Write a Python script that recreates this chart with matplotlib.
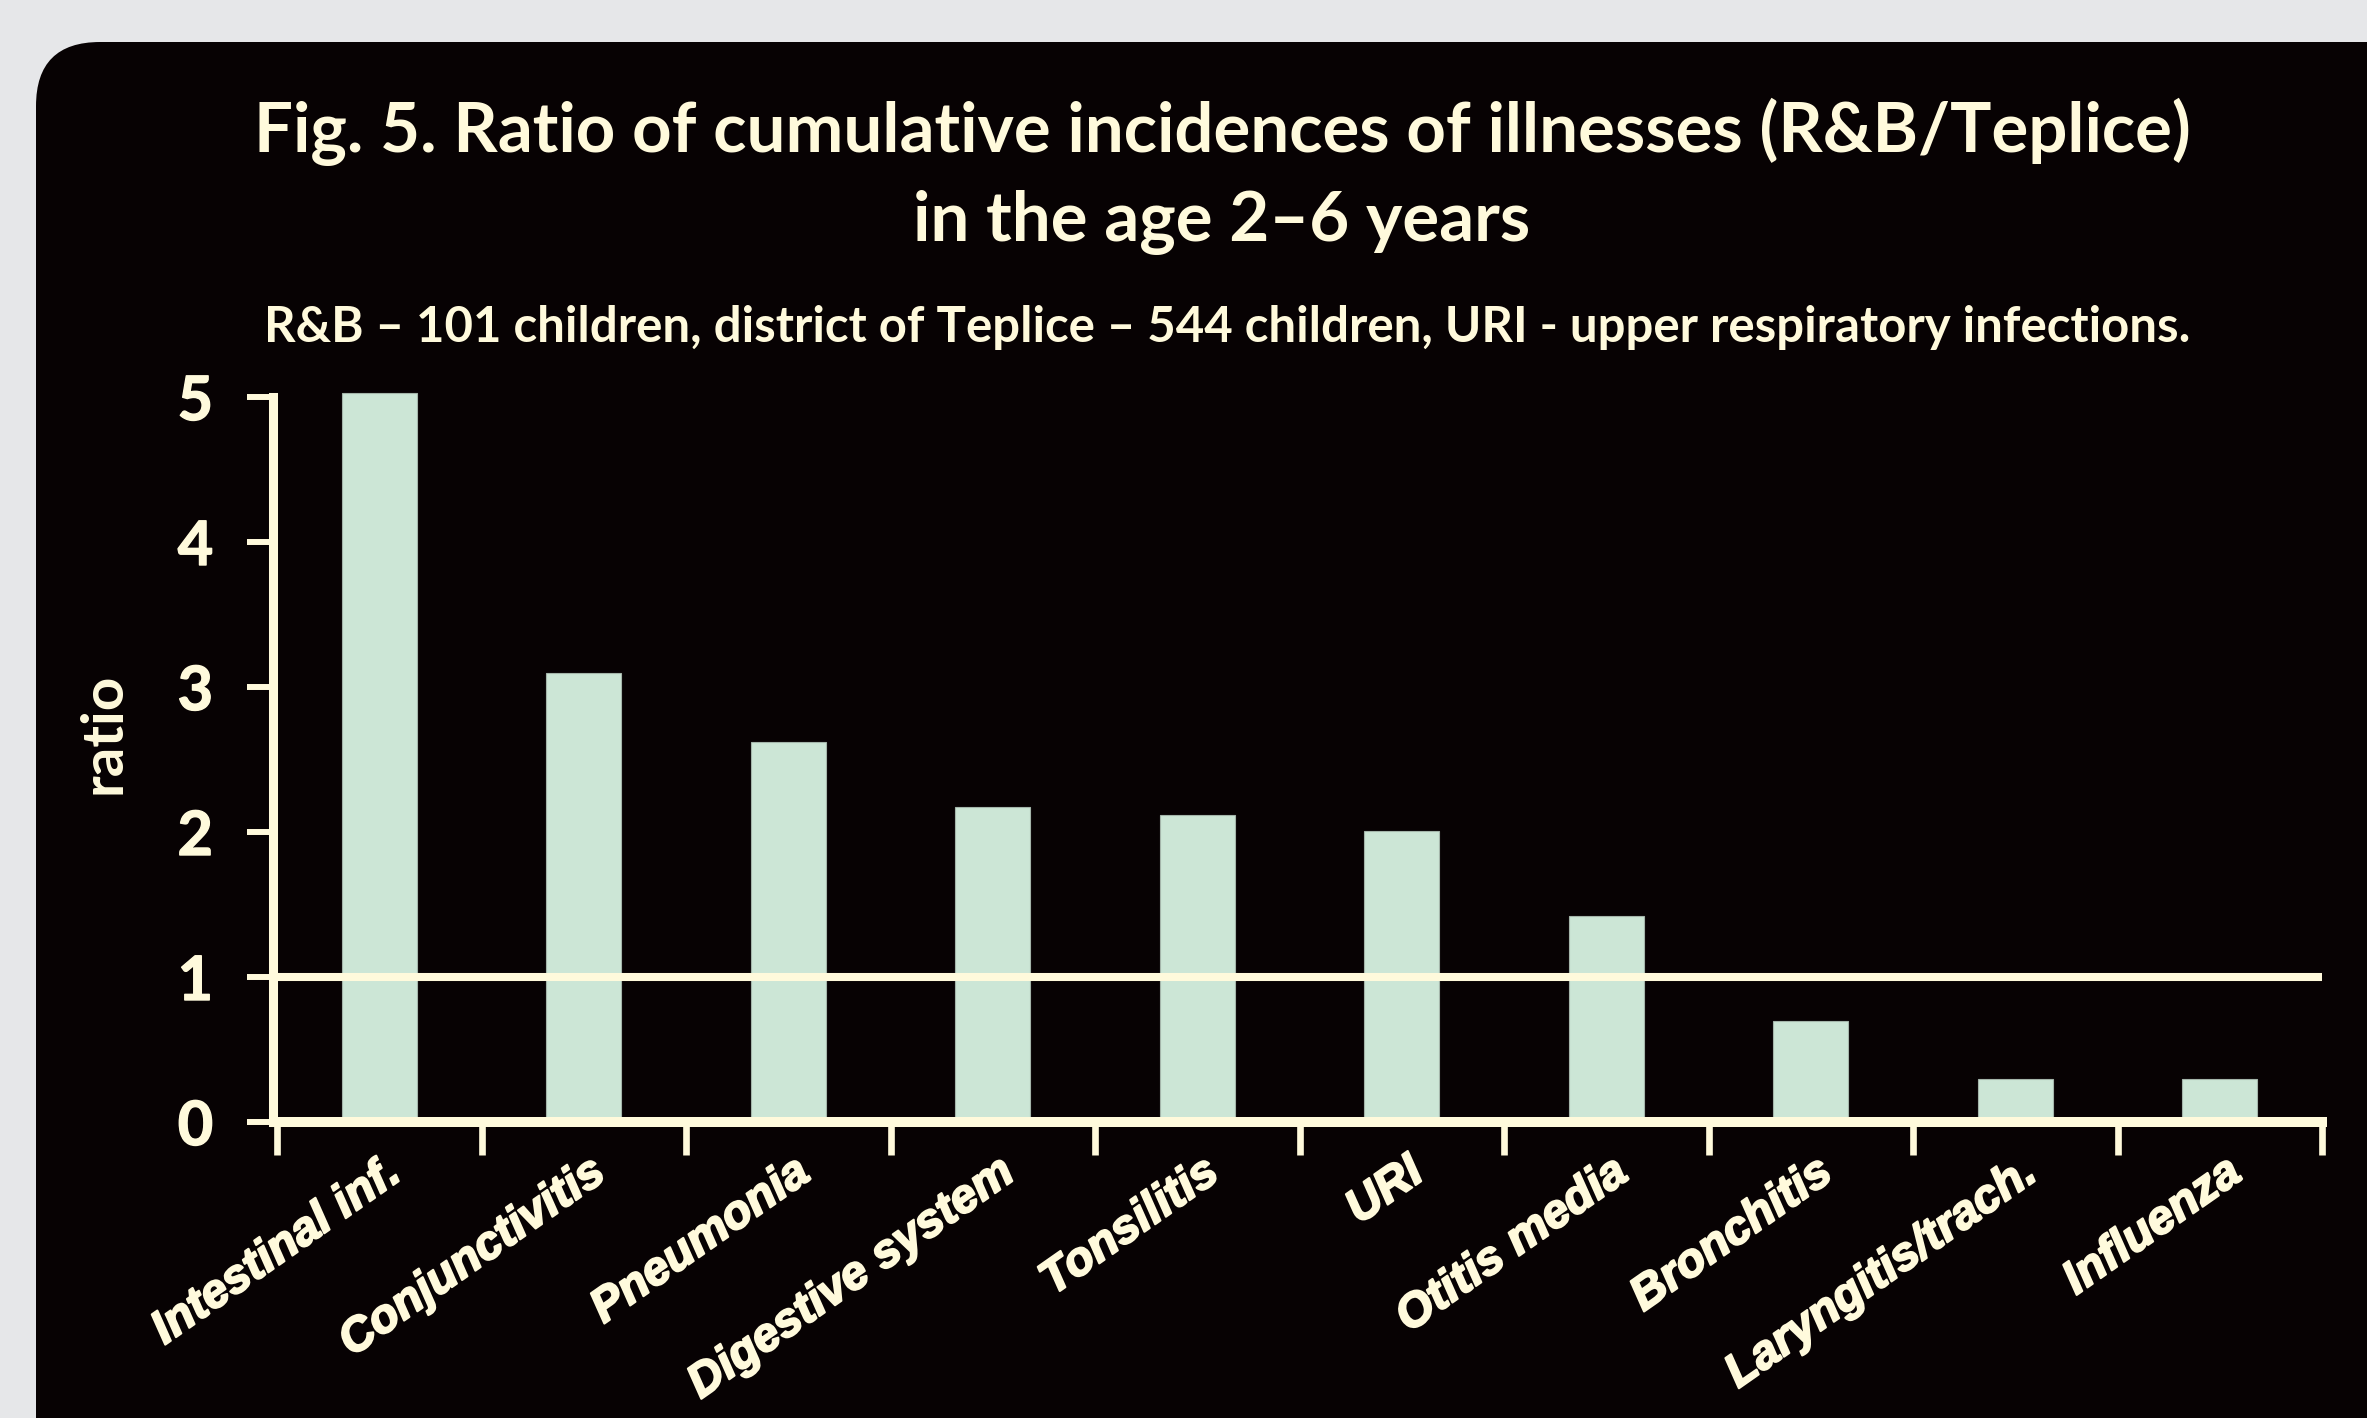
import matplotlib
matplotlib.use("Agg")
import matplotlib.pyplot as plt
import matplotlib.patheffects as pe
from matplotlib.patches import FancyBboxPatch
from matplotlib.transforms import IdentityTransform, offset_copy

# ---------------- data ----------------
categories = ["Intestinal inf.", "Conjunctivitis", "Pneumonia", "Digestive system",
              "Tonsilitis", "URI", "Otitis media", "Bronchitis",
              "Laryngitis/trach.", "Influenza"]
ratios = [5.03, 3.10, 2.62, 2.17, 2.12, 2.01, 1.42, 0.70, 0.30, 0.30]
y_ticks = [0, 1, 2, 3, 4, 5]
reference_ratio = 1
title_line1 = "Fig. 5. Ratio of cumulative incidences of illnesses (R&B/Teplice)"
title_line2 = "in the age 2\u20136 years"
subtitle = ("R&B \u2013 101 children, district of Teplice \u2013 544 children, "
            "URI - upper respiratory infections.")
y_label = "ratio"

# ---------------- style ----------------
W, H, DPI = 2367, 1418, 100
BG = "#E6E7E9"
PANEL = "#070203"
CREAM = "#FFFADC"
BAR = "#CCE6D6"
BAR_EDGE = "#A4B5AA"
TFONT = ["Lato", "DejaVu Sans"]
XFONT = ["Liberation Sans", "DejaVu Sans"]

fig = plt.figure(figsize=(W / DPI, H / DPI), dpi=DPI)
fig.patch.set_facecolor(BG)

panel = FancyBboxPatch((36, -300), W + 300, H - 42 + 300,
                       boxstyle="round,pad=0,rounding_size=64",
                       transform=IdentityTransform(),
                       facecolor=PANEL, edgecolor="none", zorder=0)
fig.add_artist(panel)

ax_left, ax_right, ax_bottom, ax_top = 277, 2322, 1122, 397
ax = fig.add_axes([ax_left / W, (H - ax_bottom) / H,
                   (ax_right - ax_left) / W, (ax_bottom - ax_top) / H])
ax.set_facecolor("none")
ax.set_xlim(-0.5, len(categories) - 0.5)
ax.set_ylim(y_ticks[0], y_ticks[-1])

x = list(range(len(categories)))
ax.bar(x, ratios, width=0.367, color=BAR, edgecolor=BAR_EDGE, linewidth=0.8,
       clip_on=False, zorder=2)
ax.axhline(reference_ratio, color=CREAM, linewidth=5.8, zorder=3)

for s in ("top", "right"):
    ax.spines[s].set_visible(False)
ax.spines["left"].set_color(CREAM)
ax.spines["left"].set_linewidth(6.5)
ax.spines["left"].set_position(("outward", 3))
ax.spines["bottom"].set_color(CREAM)
ax.spines["bottom"].set_linewidth(7.2)
ax.spines["left"].set_zorder(4)
ax.spines["bottom"].set_zorder(4)

ax.set_xticks([i - 0.5 for i in range(len(categories) + 1)])
ax.tick_params(axis="x", length=24, width=4.8, color=CREAM, direction="out",
               labelbottom=False)
ax.set_yticks(y_ticks)
ax.set_yticklabels([str(v) for v in y_ticks], family=TFONT, fontweight="bold",
                   fontsize=44, color=CREAM)
ax.tick_params(axis="y", length=19, width=4.3, color=CREAM, direction="out", pad=24)
for lbl in ax.get_yticklabels():
    lbl.set_path_effects([pe.withStroke(linewidth=1.0, foreground=CREAM)])

# category labels
thick = [pe.withStroke(linewidth=1.5, foreground=CREAM)]
for i, lab in enumerate(categories):
    tr = offset_copy(ax.transData, fig=fig, x=24, y=-56, units="dots")
    ax.text(i, 0, lab, transform=tr, rotation=35, rotation_mode="anchor",
            ha="right", va="baseline", family=XFONT, fontweight="bold",
            style="italic", fontsize=34, color=CREAM, clip_on=False,
            path_effects=thick)

# y label
fig.text(104 / W, 1 - 733 / H, y_label, rotation=90, ha="center", va="center",
         family=TFONT, fontweight="bold", fontsize=42, color=CREAM)

# titles
t1 = fig.text(1222 / W, 1 - 152 / H, title_line1, ha="center", va="baseline",
              family=TFONT, fontweight="bold", fontsize=50, color=CREAM)
t2 = fig.text(1222 / W, 1 - 241 / H, title_line2, ha="center", va="baseline",
              family=TFONT, fontweight="bold", fontsize=50, color=CREAM)
t3 = fig.text(1227 / W, 1 - 342 / H, subtitle, ha="center", va="baseline",
              family=TFONT, fontweight="bold", fontsize=36, color=CREAM)

fig.canvas.draw()
r = fig.canvas.get_renderer()
w1 = t1.get_window_extent(r).width
fs1 = t1.get_fontsize() * 1941 / w1
t1.set_fontsize(fs1)
t2.set_fontsize(fs1)
w3 = t3.get_window_extent(r).width
t3.set_fontsize(t3.get_fontsize() * 1920 / w3)

fig.savefig("out.png", dpi=DPI, facecolor=BG)
